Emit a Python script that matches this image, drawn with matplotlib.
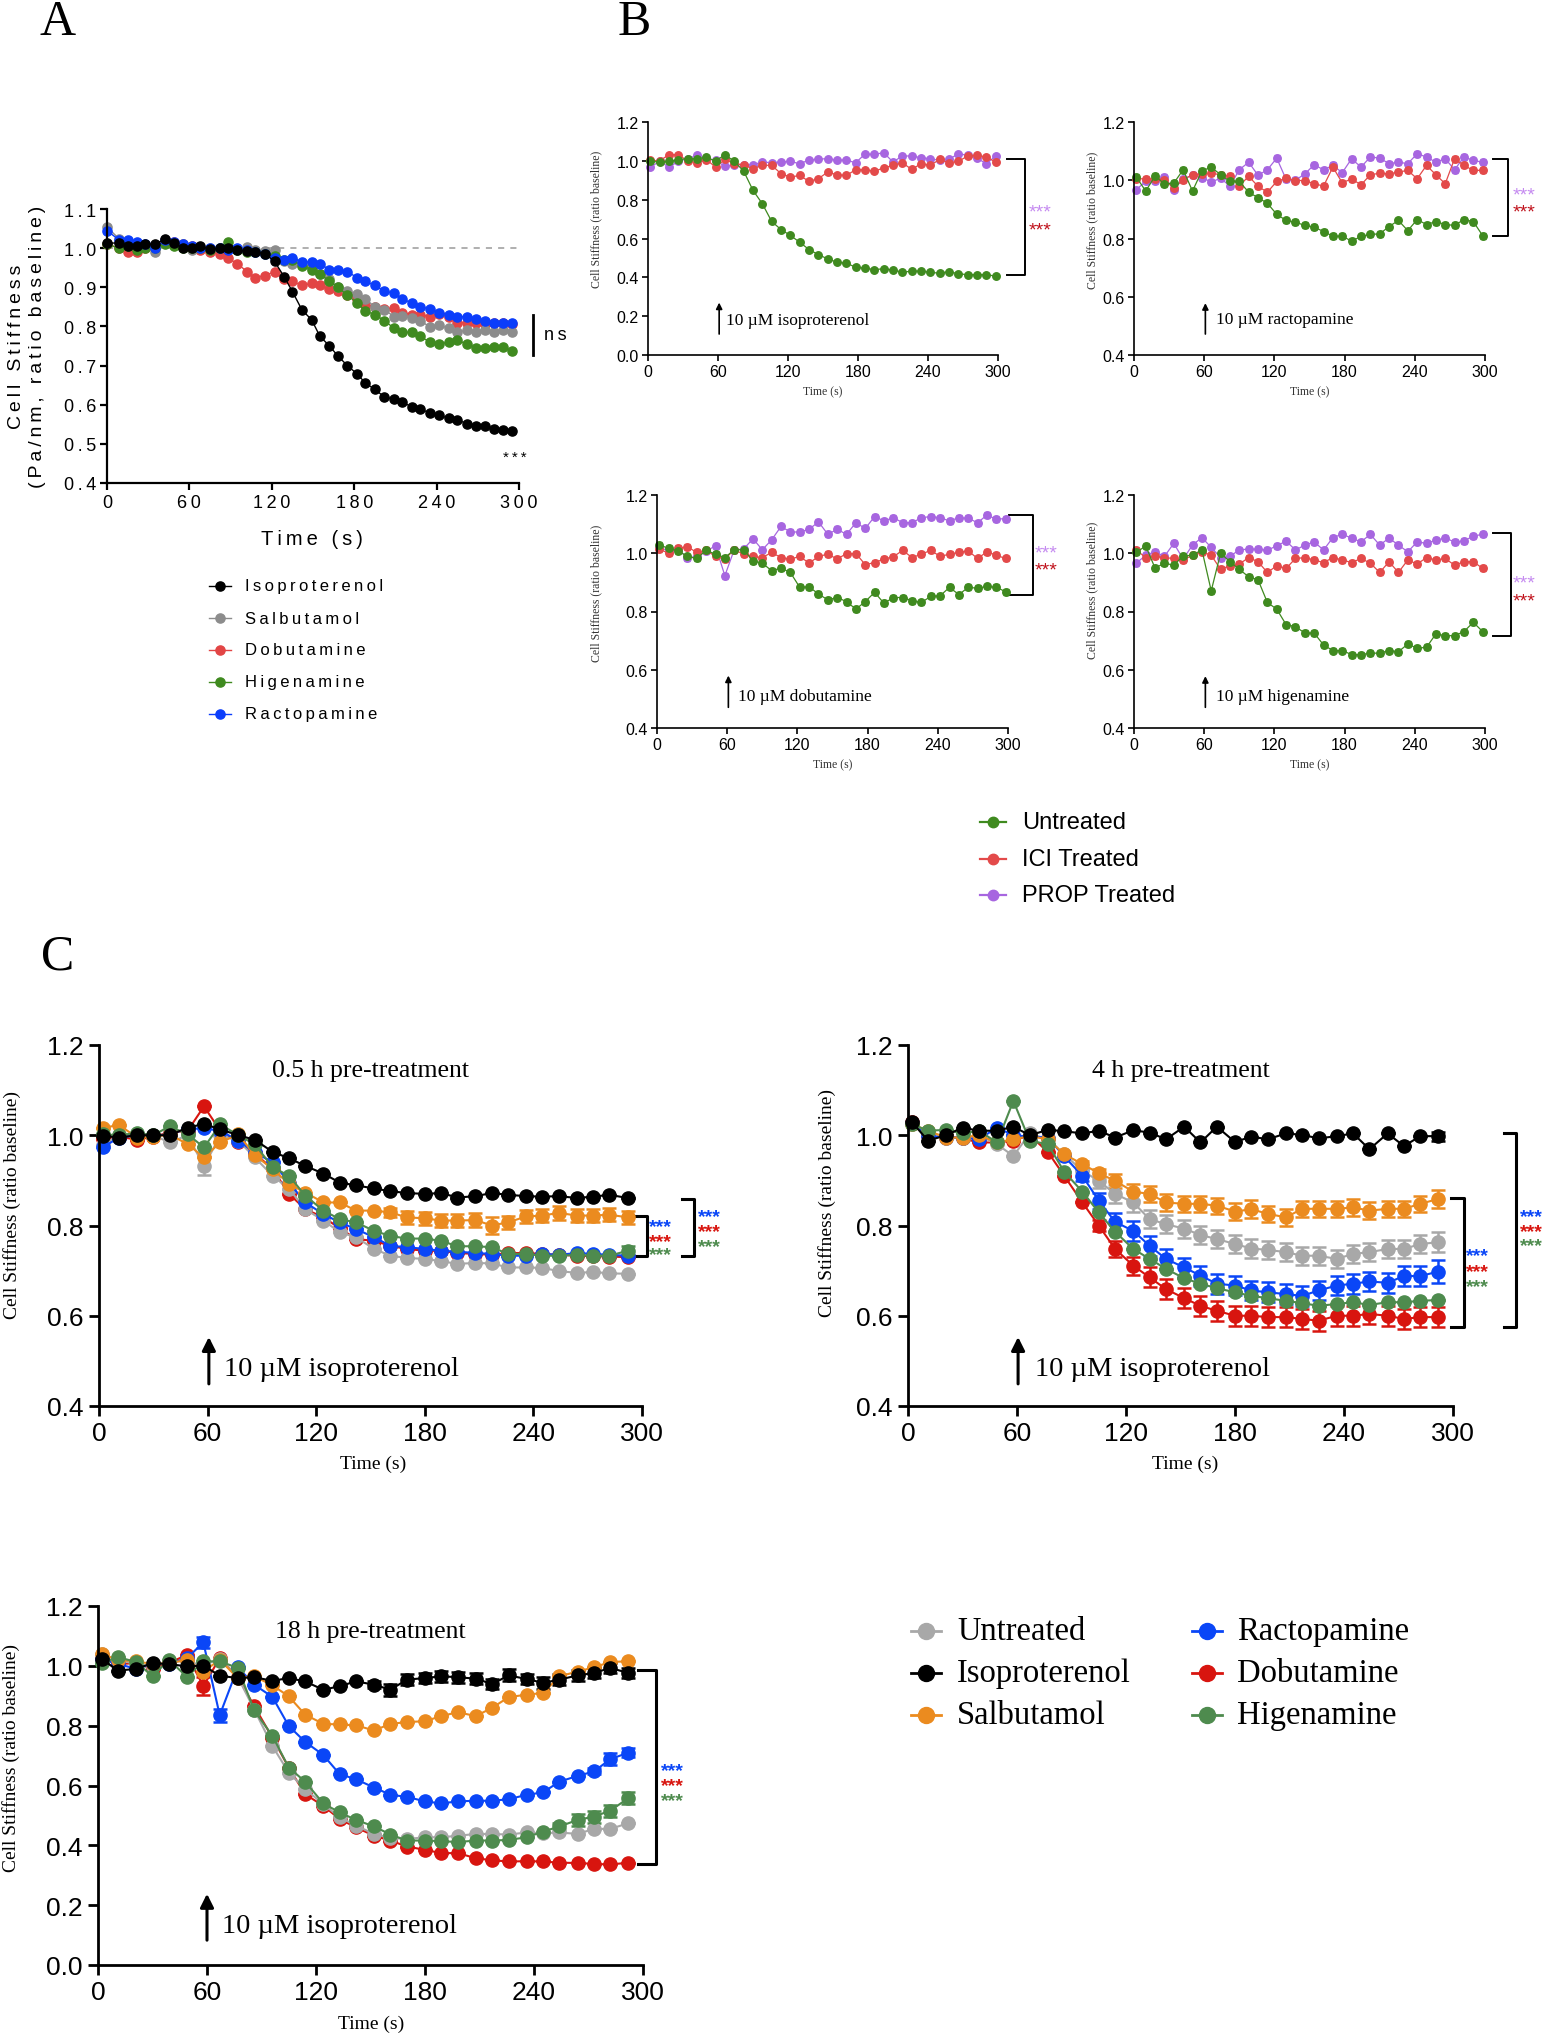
"""Cell stiffness time courses: panel A (agonists), B (blockers), C (pre-treatment)."""

import matplotlib

matplotlib.use("Agg")
import matplotlib.pyplot as plt  # noqa: E402
import numpy as np  # noqa: E402
from matplotlib.lines import Line2D  # noqa: E402

W, H = 1550, 2040
SANS = ["Liberation Sans", "DejaVu Sans"]
SERIF = ["Liberation Serif", "DejaVu Serif"]

# ---------------------------------------------------------------- panel A data
T_A = [0, 9, 15, 22, 28, 35, 42, 49, 55, 62, 68, 75, 82, 88, 95, 102, 108, 115,
       122, 129, 135, 142, 149, 155, 162, 168, 175, 182, 188, 195, 202, 209, 215,
       222, 228, 235, 242, 249, 255, 262, 269, 275, 282, 288, 295]
A_NAMES = ["Isoproterenol", "Salbutamol", "Dobutamine", "Higenamine", "Ractopamine"]
A_ISO = [1.013, 1.013, 1.005, 1.005, 1.01, 1.01, 1.023, 1.013, 1.0, 1.0, 1.005, 0.997,
         1.0, 1.0, 0.995, 0.992, 0.99, 0.986, 0.966, 0.927, 0.889, 0.842, 0.817, 0.775,
         0.75, 0.725, 0.70, 0.679, 0.656, 0.639, 0.62, 0.614, 0.607, 0.594, 0.588, 0.58,
         0.573, 0.565, 0.561, 0.552, 0.546, 0.546, 0.537, 0.536, 0.532]
A_SAL = [1.054, 1.023, 1.01, 1.005, 1.005, 0.99, 1.02, 1.01, 1.01, 0.995, 1.0, 1.0,
         1.0, 0.997, 0.998, 1.003, 0.995, 0.993, 0.995, 0.966, 0.96, 0.957, 0.95, 0.933,
         0.92, 0.90, 0.89, 0.883, 0.871, 0.85, 0.843, 0.825, 0.826, 0.821, 0.815, 0.799,
         0.803, 0.795, 0.786, 0.79, 0.786, 0.79, 0.786, 0.79, 0.787]
A_DOB = [1.01, 1.0, 0.99, 0.99, 1.0, 1.0, 1.02, 1.015, 1.01, 1.005, 0.995, 0.99,
         0.985, 0.975, 0.96, 0.94, 0.925, 0.93, 0.94, 0.92, 0.915, 0.905, 0.91, 0.905,
         0.895, 0.89, 0.88, 0.87, 0.855, 0.85, 0.845, 0.847, 0.835, 0.83, 0.83, 0.825,
         0.832, 0.825, 0.81, 0.81, 0.81, 0.805, 0.81, 0.81, 0.805]
A_HIG = [1.01, 1.0, 1.005, 0.995, 1.0, 1.0, 1.01, 1.005, 1.0, 1.0, 1.0, 0.995,
         1.0, 1.015, 0.995, 0.99, 0.99, 0.985, 0.98, 0.97, 0.97, 0.955, 0.945, 0.935,
         0.915, 0.90, 0.88, 0.86, 0.84, 0.83, 0.815, 0.795, 0.785, 0.785, 0.775, 0.76,
         0.755, 0.76, 0.765, 0.755, 0.745, 0.745, 0.748, 0.748, 0.738]
A_RAC = [1.045, 1.02, 1.02, 1.015, 1.01, 1.0, 1.02, 1.015, 1.01, 1.005, 1.0, 1.0,
         1.0, 0.995, 1.0, 0.995, 0.99, 0.985, 0.975, 0.97, 0.975, 0.965, 0.965, 0.96,
         0.945, 0.945, 0.94, 0.925, 0.915, 0.905, 0.89, 0.885, 0.87, 0.86, 0.85, 0.845,
         0.835, 0.83, 0.825, 0.825, 0.82, 0.815, 0.81, 0.81, 0.81]

# ---------------------------------------------------------------- panel B data
T_B = [2, 10, 18, 26, 34, 42, 50, 58, 66, 74, 82, 90, 98, 106, 114, 122, 130, 138,
       146, 154, 162, 170, 178, 186, 194, 202, 210, 218, 226, 234, 242, 250, 258,
       266, 274, 282, 290, 298]
B_NAMES = ["Untreated", "ICI Treated", "PROP Treated"]
B_DRUGS = ["isoproterenol", "ractopamine", "dobutamine", "higenamine"]
B_SEM = [0.004, 0.01, 0.01, 0.01]
B1_UNT = [0.997, 0.994, 0.997, 1.006, 1.011, 1.011, 1.018, 0.999, 1.032, 0.997, 0.947,
          0.848, 0.779, 0.688, 0.646, 0.616, 0.581, 0.543, 0.517, 0.495, 0.478, 0.473,
          0.452, 0.447, 0.44, 0.444, 0.438, 0.426, 0.432, 0.432, 0.426, 0.421, 0.43,
          0.418, 0.414, 0.414, 0.414, 0.406]
B1_ICI = [1.002, 1.0, 1.032, 1.032, 0.999, 0.99, 1.006, 0.968, 1.007, 0.985, 0.98,
          0.959, 0.977, 0.977, 0.934, 0.916, 0.925, 0.894, 0.908, 0.942, 0.928, 0.925,
          0.954, 0.954, 0.947, 0.963, 0.977, 0.99, 0.956, 0.985, 0.977, 1.007, 0.99,
          0.997, 1.025, 1.028, 1.02, 0.994]
B1_PROP = [0.968, 0.997, 0.968, 0.997, 1.011, 1.028, 1.011, 1.002, 0.971, 0.98, 0.98,
           0.98, 0.994, 0.99, 0.994, 0.997, 0.985, 1.004, 1.009, 1.011, 1.004, 1.004,
           0.99, 1.035, 1.033, 1.042, 0.994, 1.025, 1.025, 1.016, 1.011, 1.002, 1.007,
           1.037, 1.028, 1.014, 0.985, 1.025]
B2_UNT = [1.011, 0.963, 1.014, 0.988, 0.99, 1.036, 0.963, 1.032, 1.045, 1.019, 0.996,
          0.996, 0.959, 0.94, 0.921, 0.883, 0.862, 0.856, 0.845, 0.839, 0.824, 0.808,
          0.808, 0.791, 0.807, 0.814, 0.816, 0.841, 0.862, 0.827, 0.865, 0.848, 0.858,
          0.848, 0.845, 0.865, 0.858, 0.81]
B2_ICI = [1.005, 1.005, 1.005, 1.002, 0.973, 1.002, 1.019, 1.022, 1.024, 1.019, 1.014,
          0.98, 1.014, 0.979, 0.959, 0.996, 1.007, 0.999, 0.999, 0.988, 0.98, 1.045,
          0.991, 1.005, 0.984, 1.019, 1.024, 1.022, 1.028, 1.034, 1.005, 1.051, 1.019,
          0.988, 1.074, 1.051, 1.034, 1.034]
B2_PROP = [0.968, 0.996, 0.997, 1.011, 0.968, 1.005, 1.017, 1.009, 0.994, 1.007, 0.98,
           1.036, 1.062, 1.017, 1.036, 1.076, 1.003, 1.0, 1.022, 1.053, 1.036, 1.051,
           1.026, 1.074, 1.045, 1.08, 1.076, 1.057, 1.062, 1.057, 1.091, 1.08, 1.062,
           1.074, 1.036, 1.08, 1.068, 1.062]
B3_UNT = [1.028, 1.017, 1.008, 0.989, 0.982, 1.01, 0.997, 0.985, 1.012, 1.012, 0.974,
          0.966, 0.94, 0.949, 0.934, 0.883, 0.885, 0.86, 0.84, 0.848, 0.834, 0.808,
          0.834, 0.866, 0.828, 0.848, 0.848, 0.837, 0.831, 0.852, 0.854, 0.883, 0.858,
          0.883, 0.88, 0.886, 0.883, 0.868]
B3_ICI = [1.014, 1.0, 1.017, 1.022, 1.003, 1.01, 0.989, 0.98, 1.012, 0.997, 0.989,
          0.985, 1.003, 0.985, 0.98, 0.989, 0.966, 0.989, 0.997, 0.98, 0.999, 0.999,
          0.961, 0.968, 0.98, 0.988, 1.01, 0.985, 0.997, 1.01, 0.989, 0.997, 1.003,
          1.008, 0.982, 1.005, 0.993, 0.982]
B3_PROP = [1.02, 1.008, 1.014, 0.985, 0.989, 1.008, 1.025, 0.923, 1.012, 1.014, 1.05,
           1.012, 1.046, 1.092, 1.073, 1.073, 1.082, 1.108, 1.065, 1.082, 1.065, 1.105,
           1.085, 1.126, 1.111, 1.122, 1.105, 1.105, 1.122, 1.126, 1.122, 1.111, 1.122,
           1.12, 1.105, 1.131, 1.117, 1.119]
B4_UNT = [1.003, 1.025, 0.949, 0.966, 0.959, 0.991, 0.993, 1.012, 0.871, 1.0, 0.971,
          0.945, 0.919, 0.909, 0.831, 0.808, 0.755, 0.748, 0.726, 0.726, 0.685, 0.666,
          0.666, 0.652, 0.652, 0.657, 0.657, 0.666, 0.662, 0.688, 0.674, 0.677, 0.723,
          0.717, 0.717, 0.731, 0.763, 0.731]
B4_ICI = [1.011, 0.985, 0.989, 0.985, 0.982, 0.977, 0.993, 1.005, 0.993, 0.945, 0.957,
          0.963, 0.985, 0.971, 0.934, 0.957, 0.948, 0.982, 0.985, 0.977, 0.968, 0.985,
          0.977, 0.968, 0.982, 0.966, 0.934, 0.971, 0.934, 0.977, 0.963, 0.985, 0.977,
          0.982, 0.959, 0.971, 0.971, 0.948]
B4_PROP = [0.966, 0.993, 1.005, 0.989, 1.034, 0.98, 1.028, 1.054, 1.02, 0.985, 0.989,
           1.012, 1.014, 1.014, 1.011, 1.025, 1.042, 1.011, 1.028, 1.039, 1.011, 1.054,
           1.065, 1.052, 1.039, 1.065, 1.028, 1.052, 1.028, 1.005, 1.039, 1.034, 1.045,
           1.052, 1.039, 1.042, 1.059, 1.065]

# ---------------------------------------------------------------- panel C data
T_C = [2, 11, 21, 30, 39, 49, 58, 67, 77, 86, 96, 105, 114, 124, 133, 142, 152, 161,
       170, 180, 189, 198, 208, 217, 226, 236, 245, 254, 264, 273, 282, 292]
C_NAMES = ["Untreated", "Isoproterenol", "Salbutamol",
           "Ractopamine", "Dobutamine", "Higenamine"]
C_TITLES = ["0.5 h pre-treatment", "4 h pre-treatment", "18 h pre-treatment"]

C1_UNT = [0.979, 1.0, 1.002, 1.0, 0.984, 1.0, 0.931, 1.0, 0.988, 0.951, 0.91, 0.881,
          0.836, 0.811, 0.785, 0.774, 0.748, 0.733, 0.728, 0.726, 0.721, 0.715, 0.717,
          0.716, 0.707, 0.707, 0.706, 0.699, 0.695, 0.697, 0.694, 0.693]
C1_ISO = [0.999, 0.995, 1.0, 1.0, 1.0, 1.017, 1.025, 1.013, 1.0, 0.99, 0.963, 0.949,
          0.932, 0.915, 0.895, 0.889, 0.882, 0.876, 0.872, 0.87, 0.872, 0.862, 0.865,
          0.872, 0.868, 0.865, 0.864, 0.865, 0.861, 0.864, 0.868, 0.861]
C1_SAL = [1.016, 1.023, 0.995, 0.996, 1.002, 0.98, 0.951, 0.984, 1.002, 0.956, 0.925,
          0.892, 0.873, 0.851, 0.851, 0.833, 0.833, 0.829, 0.818, 0.816, 0.811, 0.811,
          0.812, 0.8, 0.807, 0.82, 0.822, 0.828, 0.822, 0.822, 0.824, 0.818]
C1_RAC = [0.973, 0.995, 1.0, 0.998, 1.003, 1.014, 1.015, 1.01, 0.988, 0.962, 0.94,
          0.895, 0.851, 0.825, 0.807, 0.792, 0.774, 0.755, 0.752, 0.748, 0.744, 0.742,
          0.739, 0.737, 0.733, 0.733, 0.737, 0.735, 0.739, 0.737, 0.735, 0.733]
C1_DOB = [0.991, 0.997, 0.99, 0.997, 1.006, 1.01, 1.064, 1.01, 0.984, 0.96, 0.925,
          0.87, 0.836, 0.818, 0.794, 0.77, 0.766, 0.755, 0.748, 0.744, 0.744, 0.739,
          0.737, 0.735, 0.739, 0.739, 0.737, 0.735, 0.733, 0.732, 0.731, 0.73]
C1_HIG = [1.002, 1.0, 1.005, 1.0, 1.02, 1.002, 0.973, 1.024, 1.0, 0.98, 0.929, 0.91,
          0.866, 0.833, 0.814, 0.807, 0.788, 0.777, 0.771, 0.771, 0.766, 0.754, 0.754,
          0.752, 0.737, 0.737, 0.733, 0.733, 0.735, 0.733, 0.733, 0.744]
C1_SEM_UNT = {6: 0.02}
C1_SEM_SAL = {17: 0.01, 18: 0.015, 19: 0.015, 20: 0.015, 21: 0.015, 22: 0.015,
              23: 0.018, 24: 0.015, 25: 0.015, 26: 0.015, 27: 0.015, 28: 0.015,
              29: 0.015, 30: 0.015, 31: 0.015}
C1_SEM_HIG = {31: 0.01}

C2_UNT = [1.025, 1.002, 0.997, 0.993, 1.0, 0.98, 0.954, 1.004, 0.991, 0.958, 0.921,
          0.899, 0.87, 0.851, 0.814, 0.803, 0.793, 0.779, 0.77, 0.759, 0.749, 0.746,
          0.741, 0.733, 0.733, 0.726, 0.737, 0.741, 0.748, 0.748, 0.759, 0.763]
C2_ISO = [1.03, 0.988, 1.0, 1.017, 1.01, 1.01, 1.019, 1.0, 1.012, 1.009, 1.004, 1.01,
          0.995, 1.011, 1.006, 0.991, 1.019, 0.984, 1.019, 0.985, 0.997, 0.991, 1.004,
          1.001, 0.993, 0.998, 1.004, 0.969, 1.004, 0.976, 0.998, 0.998]
C2_SAL = [1.025, 1.01, 0.995, 0.995, 1.0, 0.984, 0.991, 0.998, 0.991, 0.958, 0.936,
          0.916, 0.899, 0.875, 0.87, 0.851, 0.848, 0.848, 0.844, 0.831, 0.836, 0.826,
          0.818, 0.837, 0.837, 0.837, 0.84, 0.833, 0.837, 0.837, 0.848, 0.859]
C2_RAC = [1.028, 0.998, 0.995, 0.995, 0.991, 1.017, 1.0, 0.997, 0.995, 0.953, 0.91,
          0.855, 0.808, 0.788, 0.755, 0.726, 0.707, 0.689, 0.671, 0.667, 0.656, 0.652,
          0.648, 0.644, 0.656, 0.667, 0.671, 0.676, 0.673, 0.688, 0.688, 0.698]
C2_DOB = [1.03, 0.998, 0.998, 0.993, 0.984, 0.984, 0.988, 1.0, 0.963, 0.91, 0.851,
          0.80, 0.748, 0.711, 0.685, 0.659, 0.639, 0.622, 0.611, 0.60, 0.60, 0.597,
          0.597, 0.593, 0.589, 0.60, 0.60, 0.604, 0.60, 0.593, 0.597, 0.597]
C2_HIG = [1.025, 1.01, 1.012, 1.004, 1.01, 0.984, 1.076, 0.988, 0.98, 0.919, 0.875,
          0.829, 0.786, 0.748, 0.726, 0.704, 0.683, 0.671, 0.661, 0.652, 0.644, 0.639,
          0.633, 0.628, 0.622, 0.626, 0.63, 0.624, 0.63, 0.63, 0.633, 0.635]
C2_SEM_UNT = [0, 0, 0, 0, 0, 0, 0, 0, 0, 0, 0.012, 0.015, 0.02, 0.02, 0.02, 0.02,
              0.02, 0.02, 0.02, 0.02, 0.02, 0.02, 0.02, 0.02, 0.02, 0.02, 0.02, 0.02,
              0.02, 0.02, 0.02, 0.022]
C2_SEM_ISO = [0, 0, 0, 0, 0, 0, 0, 0, 0, 0, 0, 0, 0, 0, 0, 0,
              0, 0, 0, 0, 0, 0, 0, 0, 0, 0, 0, 0, 0, 0, 0, 0.01]
C2_SEM_SAL = [0, 0, 0, 0, 0, 0, 0, 0, 0, 0, 0.008, 0.01, 0.015, 0.018, 0.018, 0.018,
              0.018, 0.018, 0.018, 0.018, 0.02, 0.018, 0.018, 0.018, 0.018, 0.018,
              0.018, 0.018, 0.018, 0.018, 0.018, 0.02]
C2_SEM_RAC = [0, 0, 0, 0, 0, 0, 0, 0, 0, 0, 0.012, 0.018, 0.02, 0.022, 0.022, 0.022,
              0.022, 0.022, 0.022, 0.022, 0.022, 0.022, 0.022, 0.022, 0.022, 0.022,
              0.022, 0.022, 0.022, 0.022, 0.022, 0.025]
C2_SEM_DOB = [0, 0, 0, 0, 0, 0, 0, 0, 0, 0, 0, 0.012, 0.018, 0.02, 0.022, 0.022,
              0.022, 0.022, 0.022, 0.022, 0.022, 0.022, 0.022, 0.022, 0.022, 0.022,
              0.022, 0.022, 0.022, 0.022, 0.022, 0.022]

C3_UNT = [1.039, 1.02, 1.006, 0.998, 1.015, 1.015, 1.001, 1.024, 0.962, 0.854, 0.732,
          0.643, 0.588, 0.538, 0.494, 0.466, 0.438, 0.425, 0.421, 0.427, 0.427, 0.432,
          0.438, 0.438, 0.436, 0.443, 0.44, 0.443, 0.438, 0.455, 0.455, 0.474]
C3_ISO = [1.023, 0.984, 0.99, 1.009, 1.006, 0.998, 1.001, 0.967, 0.959, 0.962, 0.95,
          0.959, 0.948, 0.92, 0.932, 0.948, 0.937, 0.92, 0.954, 0.959, 0.965, 0.962,
          0.957, 0.939, 0.968, 0.956, 0.943, 0.954, 0.968, 0.976, 0.993, 0.976]
C3_SAL = [1.039, 1.02, 1.015, 1.006, 1.009, 1.02, 0.981, 1.02, 0.959, 0.965, 0.935,
          0.898, 0.837, 0.806, 0.804, 0.801, 0.784, 0.806, 0.812, 0.815, 0.832, 0.845,
          0.832, 0.86, 0.895, 0.904, 0.909, 0.965, 0.981, 0.995, 1.013, 1.015]
C3_RAC = [1.023, 1.006, 0.99, 1.006, 1.006, 1.026, 1.078, 0.835, 0.995, 0.937, 0.896,
          0.799, 0.746, 0.702, 0.638, 0.621, 0.593, 0.569, 0.562, 0.547, 0.54, 0.547,
          0.549, 0.549, 0.554, 0.569, 0.577, 0.613, 0.632, 0.647, 0.688, 0.71]
C3_DOB = [1.023, 1.006, 1.009, 0.99, 1.009, 1.037, 0.932, 1.026, 0.962, 0.865, 0.76,
          0.66, 0.571, 0.532, 0.488, 0.46, 0.432, 0.416, 0.396, 0.385, 0.374, 0.374,
          0.357, 0.35, 0.346, 0.347, 0.346, 0.342, 0.341, 0.338, 0.336, 0.342]
C3_HIG = [1.009, 1.029, 1.013, 0.965, 1.02, 0.963, 1.015, 1.015, 0.993, 0.851, 0.766,
          0.66, 0.613, 0.54, 0.51, 0.485, 0.463, 0.436, 0.416, 0.416, 0.414, 0.411,
          0.416, 0.416, 0.418, 0.427, 0.446, 0.463, 0.485, 0.496, 0.516, 0.558]
C3_SEM_ISO = {16: 0.012, 17: 0.02, 18: 0.018, 19: 0.018, 20: 0.018, 21: 0.018,
              22: 0.018, 23: 0.018, 24: 0.02, 25: 0.018, 26: 0.02, 27: 0.018,
              28: 0.018, 29: 0.018, 30: 0.018, 31: 0.018}
C3_SEM_RAC = {6: 0.02, 7: 0.022, 29: 0.01, 30: 0.02, 31: 0.016}
C3_SEM_DOB = {6: 0.03}
C3_SEM_HIG = {27: 0.01, 28: 0.02, 29: 0.02, 30: 0.02, 31: 0.02}

# ---------------------------------------------------------------- styling
A_COLORS = ["#000000", "#8c8c8c", "#e24545", "#3f8a1f", "#0b3dfb"]
B_COLORS = ["#3f8a1f", "#e34a4a", "#a766e0"]
B_STAR = ["#c58bf0", "#c0121c"]
C_COLORS = {"Untreated": "#a8a8a8", "Isoproterenol": "#000000",
            "Salbutamol": "#eb8b1f", "Ractopamine": "#0a46f7",
            "Dobutamine": "#d8150f", "Higenamine": "#4e8b4e"}


def px_axes(fig, left, top, right, bottom):
    return fig.add_axes([left / W, 1 - bottom / H, (right - left) / W, (bottom - top) / H])


def fig_text(fig, x, y, s, **kw):
    kw.setdefault("ha", "center")
    kw.setdefault("va", "center")
    fig.text(x / W, 1 - y / H, s, **kw)


def track(s, gap="\u2009"):
    return gap.join(s)


def style(ax, lw, size, length, pad, family):
    for side in ("top", "right"):
        ax.spines[side].set_visible(False)
    for side in ("left", "bottom"):
        ax.spines[side].set_linewidth(lw)
    ax.tick_params(width=lw, length=length, labelsize=size, pad=pad,
                   direction="out", labelfontfamily=family)


def legend_key(fig, x, y, half, color, ms, lw, label, size, family, tx):
    yy = 1 - y / H
    fig.add_artist(Line2D([(x - half) / W, (x + half) / W], [yy, yy], color=color, lw=lw))
    fig.add_artist(Line2D([x / W], [yy], marker="o", ms=ms, color=color, mec=color))
    fig_text(fig, tx, y, label, ha="left", size=size, family=family)


def stars(ax, x, y, color, size, text="***", weight="normal"):
    ax.annotate(text, xy=(x, y), xytext=(0, -0.22 * size), textcoords="offset points",
                ha="left", va="center", color=color, size=size, family=SANS,
                fontweight=weight, annotation_clip=False)


def arrow(ax, x, y0, y1, lw, scale):
    ax.annotate("", xy=(x, y1), xytext=(x, y0),
                arrowprops=dict(arrowstyle="-|>", color="k", lw=lw, mutation_scale=scale,
                                shrinkA=0, shrinkB=0))


def sem_array(n, sem):
    e = np.zeros(n)
    if isinstance(sem, dict):
        for i, v in sem.items():
            e[i] = v
    elif sem is not None:
        e[:] = sem
    return e


# ---------------------------------------------------------------- panel A
def panel_a(fig):
    fig_text(fig, 58, 23, "A", size=36, family=SERIF)
    ax = px_axes(fig, 107, 210, 519, 484)
    ax.plot([0, 300], [1.0, 1.0], color="#9a9a9a", lw=1.1, ls=(0, (4, 4)), zorder=0)
    values = [A_ISO, A_SAL, A_DOB, A_HIG, A_RAC]
    for i in [2, 1, 3, 4, 0]:
        ax.plot(T_A, values[i], "-o", color=A_COLORS[i], ms=6.6, lw=1.0, clip_on=False)
    ax.set_xlim(0, 300)
    ax.set_ylim(0.4, 1.1)
    yt = [0.4, 0.5, 0.6, 0.7, 0.8, 0.9, 1.0, 1.1]
    ax.set_yticks(yt)
    ax.set_yticklabels([track(f"{v:.1f}") for v in yt])
    ax.set_xticks(range(0, 301, 60))
    ax.set_xticklabels([track(str(v)) for v in range(0, 301, 60)])
    style(ax, 1.6, 13, 5, 3, SANS)
    fig_text(fig, 312, 540, track("Time (s)"), size=14.5, family=SANS)
    fig_text(fig, 27, 347, track("Cell Stiffness") + "\n" + track("(Pa/nm, ratio baseline)"),
             rotation=90, size=14, family=SANS, linespacing=1.3)
    ax.plot([310, 310], [0.726, 0.83], color="k", lw=2, clip_on=False)
    ax.text(318, 0.78, track("ns"), size=13, family=SANS, va="center")
    stars(ax, 288, 0.475, "k", 11, text=track("***"))
    for k, i in enumerate(range(5)):
        legend_key(fig, 220, 587 + 32 * k, 11, A_COLORS[i], 6.6, 1.0,
                   track(A_NAMES[i]), 12, SANS, 245)


# ---------------------------------------------------------------- panel B
def panel_b(fig):
    fig_text(fig, 634, 23, "B", size=36, family=SERIF)
    series = [(B1_UNT, B1_ICI, B1_PROP), (B2_UNT, B2_ICI, B2_PROP),
              (B3_UNT, B3_ICI, B3_PROP), (B4_UNT, B4_ICI, B4_PROP)]
    rects = [(648, 123, 998, 356), (1134, 123, 1485, 356),
             (657, 496, 1008, 729), (1134, 496, 1485, 729)]
    ylims = [(0.0, 1.2), (0.4, 1.2), (0.4, 1.2), (0.4, 1.2)]
    arrows = [(61, 0.108, 0.27, 67, 0.18), (61, 0.472, 0.578, 70, 0.524),
              (61, 0.471, 0.58, 69, 0.511), (61, 0.471, 0.578, 70, 0.511)]
    brackets = [(308, 323, 1.011, 0.414), (307, 320, 1.073, 0.81),
                (301, 321, 1.13, 0.856), (307, 322, 1.069, 0.717)]
    star_pos = [(326, 0.757, 0.664), (324, 0.965, 0.905),
                (323, 1.016, 0.959), (324, 0.914, 0.852)]
    ylabel_xy = [(596, 219), (1092, 220), (596, 593), (1092, 590)]
    xlabel_y = [392, 392, 765, 765]
    for p in range(4):
        ax = px_axes(fig, *rects[p])
        for i in [2, 1, 0]:
            ax.errorbar(T_B, series[p][i], yerr=sem_array(len(T_B), B_SEM[p]), fmt="-o",
                        color=B_COLORS[i], ms=5.4, lw=0.9, elinewidth=0.9, capsize=2.2,
                        capthick=0.9, clip_on=False)
        ax.set_xlim(0, 300)
        ax.set_ylim(*ylims[p])
        ax.set_yticks(np.arange(ylims[p][0], 1.21, 0.2))
        ax.set_yticklabels([f"{v:.1f}" for v in np.arange(ylims[p][0], 1.21, 0.2)])
        ax.set_xticks(range(0, 301, 60))
        style(ax, 1.2, 11.5, 4, 2.5, SANS)
        x, y0, y1, tx, ty = arrows[p]
        arrow(ax, x, y0, y1, 1.2, 9)
        ax.text(tx, ty, f"10 µM {B_DRUGS[p]}", size=12.5, family=SERIF, va="center")
        s0, s1, top, bot = brackets[p]
        ax.plot([s0, s1, s1, s0], [top, top, bot, bot], color="k", lw=1.4, clip_on=False)
        sx, sy_p, sy_r = star_pos[p]
        stars(ax, sx, sy_p, B_STAR[0], 14)
        stars(ax, sx, sy_r, B_STAR[1], 14)
        cx = (rects[p][0] + rects[p][2]) / 2
        fig_text(fig, cx, xlabel_y[p], "Time (s)", size=8.5, family=SERIF, color="#333333")
        fig_text(fig, *ylabel_xy[p], "Cell Stiffness (ratio baseline)", rotation=90,
                 size=8.5, family=SERIF, color="#333333")
    for k in range(3):
        legend_key(fig, 993, 823 + 36.5 * k, 13, B_COLORS[k], 7.5, 1.6,
                   B_NAMES[k], 17, SANS, 1022)


# ---------------------------------------------------------------- panel C
def panel_c(fig):
    fig_text(fig, 58, 957, "C", size=36, family=SERIF)
    data = [
        {"Untreated": C1_UNT, "Isoproterenol": C1_ISO, "Salbutamol": C1_SAL,
         "Ractopamine": C1_RAC, "Dobutamine": C1_DOB, "Higenamine": C1_HIG},
        {"Untreated": C2_UNT, "Isoproterenol": C2_ISO, "Salbutamol": C2_SAL,
         "Ractopamine": C2_RAC, "Dobutamine": C2_DOB, "Higenamine": C2_HIG},
        {"Untreated": C3_UNT, "Isoproterenol": C3_ISO, "Salbutamol": C3_SAL,
         "Ractopamine": C3_RAC, "Dobutamine": C3_DOB, "Higenamine": C3_HIG},
    ]
    sems = [
        {"Untreated": C1_SEM_UNT, "Salbutamol": C1_SEM_SAL, "Higenamine": C1_SEM_HIG},
        {"Untreated": C2_SEM_UNT, "Isoproterenol": C2_SEM_ISO, "Salbutamol": C2_SEM_SAL,
         "Ractopamine": C2_SEM_RAC, "Dobutamine": C2_SEM_DOB},
        {"Isoproterenol": C3_SEM_ISO, "Ractopamine": C3_SEM_RAC,
         "Dobutamine": C3_SEM_DOB, "Higenamine": C3_SEM_HIG},
    ]
    rects = [(99, 1046, 642, 1407), (908, 1046, 1453, 1407), (98, 1607, 643, 1966)]
    ymins = [0.4, 0.4, 0.0]
    title_y = [1.145, 1.145, 1.118]
    arrows = [(60.7, 0.449, 0.553, 69, 0.483), (60.6, 0.449, 0.553, 70, 0.483),
              (60, 0.083, 0.238, 68, 0.133)]
    brackets = [[(295, 303, 0.82, 0.733), (322, 329, 0.859, 0.732)],
                [(299, 306, 0.862, 0.575), (328, 334.5, 1.004, 0.575)],
                [(297.5, 307, 0.987, 0.336)]]
    star_sets = [[(304, (0.808, 0.774, 0.744)), (331, (0.829, 0.796, 0.763))],
                 [(307, (0.742, 0.707, 0.674)), (337, (0.83, 0.796, 0.764))],
                 [(310, (0.663, 0.613, 0.563))]]
    ylabel_xy = [(12, 1205), (827, 1203), (11, 1758)]
    xlabel_xy = [(373, 1464), (1185, 1464), (371, 2024)]
    order = ["Dobutamine", "Untreated", "Ractopamine", "Salbutamol",
             "Higenamine", "Isoproterenol"]
    star_cols = [C_COLORS["Ractopamine"], C_COLORS["Dobutamine"], C_COLORS["Higenamine"]]
    for p in range(3):
        ax = px_axes(fig, *rects[p])
        for name in order:
            err = sem_array(len(T_C), sems[p].get(name))
            ax.errorbar(T_C, data[p][name], yerr=err, fmt="-o", color=C_COLORS[name],
                        ms=9.5, lw=1.5, elinewidth=1.8, capsize=5, capthick=1.8,
                        clip_on=False)
        ax.set_xlim(0, 300)
        ax.set_ylim(ymins[p], 1.2)
        yt = np.arange(ymins[p], 1.21, 0.2)
        ax.set_yticks(yt)
        ax.set_yticklabels([f"{v:.1f}" for v in yt])
        ax.set_xticks(range(0, 301, 60))
        style(ax, 2.0, 19, 7, 4, SANS)
        ax.text(150, title_y[p], C_TITLES[p], size=18.5, family=SERIF,
                ha="center", va="center")
        x, y0, y1, tx, ty = arrows[p]
        arrow(ax, x, y0, y1, 2.2, 20)
        ax.text(tx, ty, "10 µM isoproterenol", size=20.5, family=SERIF, va="center")
        for s0, s1, top, bot in brackets[p]:
            ax.plot([s0, s1, s1, s0], [top, top, bot, bot], color="k", lw=2.2,
                    clip_on=False)
        for sx, ys in star_sets[p]:
            for y, c in zip(ys, star_cols):
                stars(ax, sx, y, c, 14, weight="bold")
        fig_text(fig, *xlabel_xy[p], "Time (s)", size=14, family=SERIF)
        fig_text(fig, *ylabel_xy[p], "Cell Stiffness (ratio baseline)", rotation=90,
                 size=14, family=SERIF)
    for k, name in enumerate(C_NAMES):
        col, row = divmod(k, 3)
        legend_key(fig, 926 + 281 * col, 1632 + 42 * row, 15, C_COLORS[name], 11.5, 2.0,
                   name, 23.5, SERIF, 957 + 280 * col)


if __name__ == "__main__":
    fig = plt.figure(figsize=(W / 100, H / 100), dpi=100)
    panel_a(fig)
    panel_b(fig)
    panel_c(fig)
    fig.savefig("out.png", dpi=100)
    plt.close(fig)
